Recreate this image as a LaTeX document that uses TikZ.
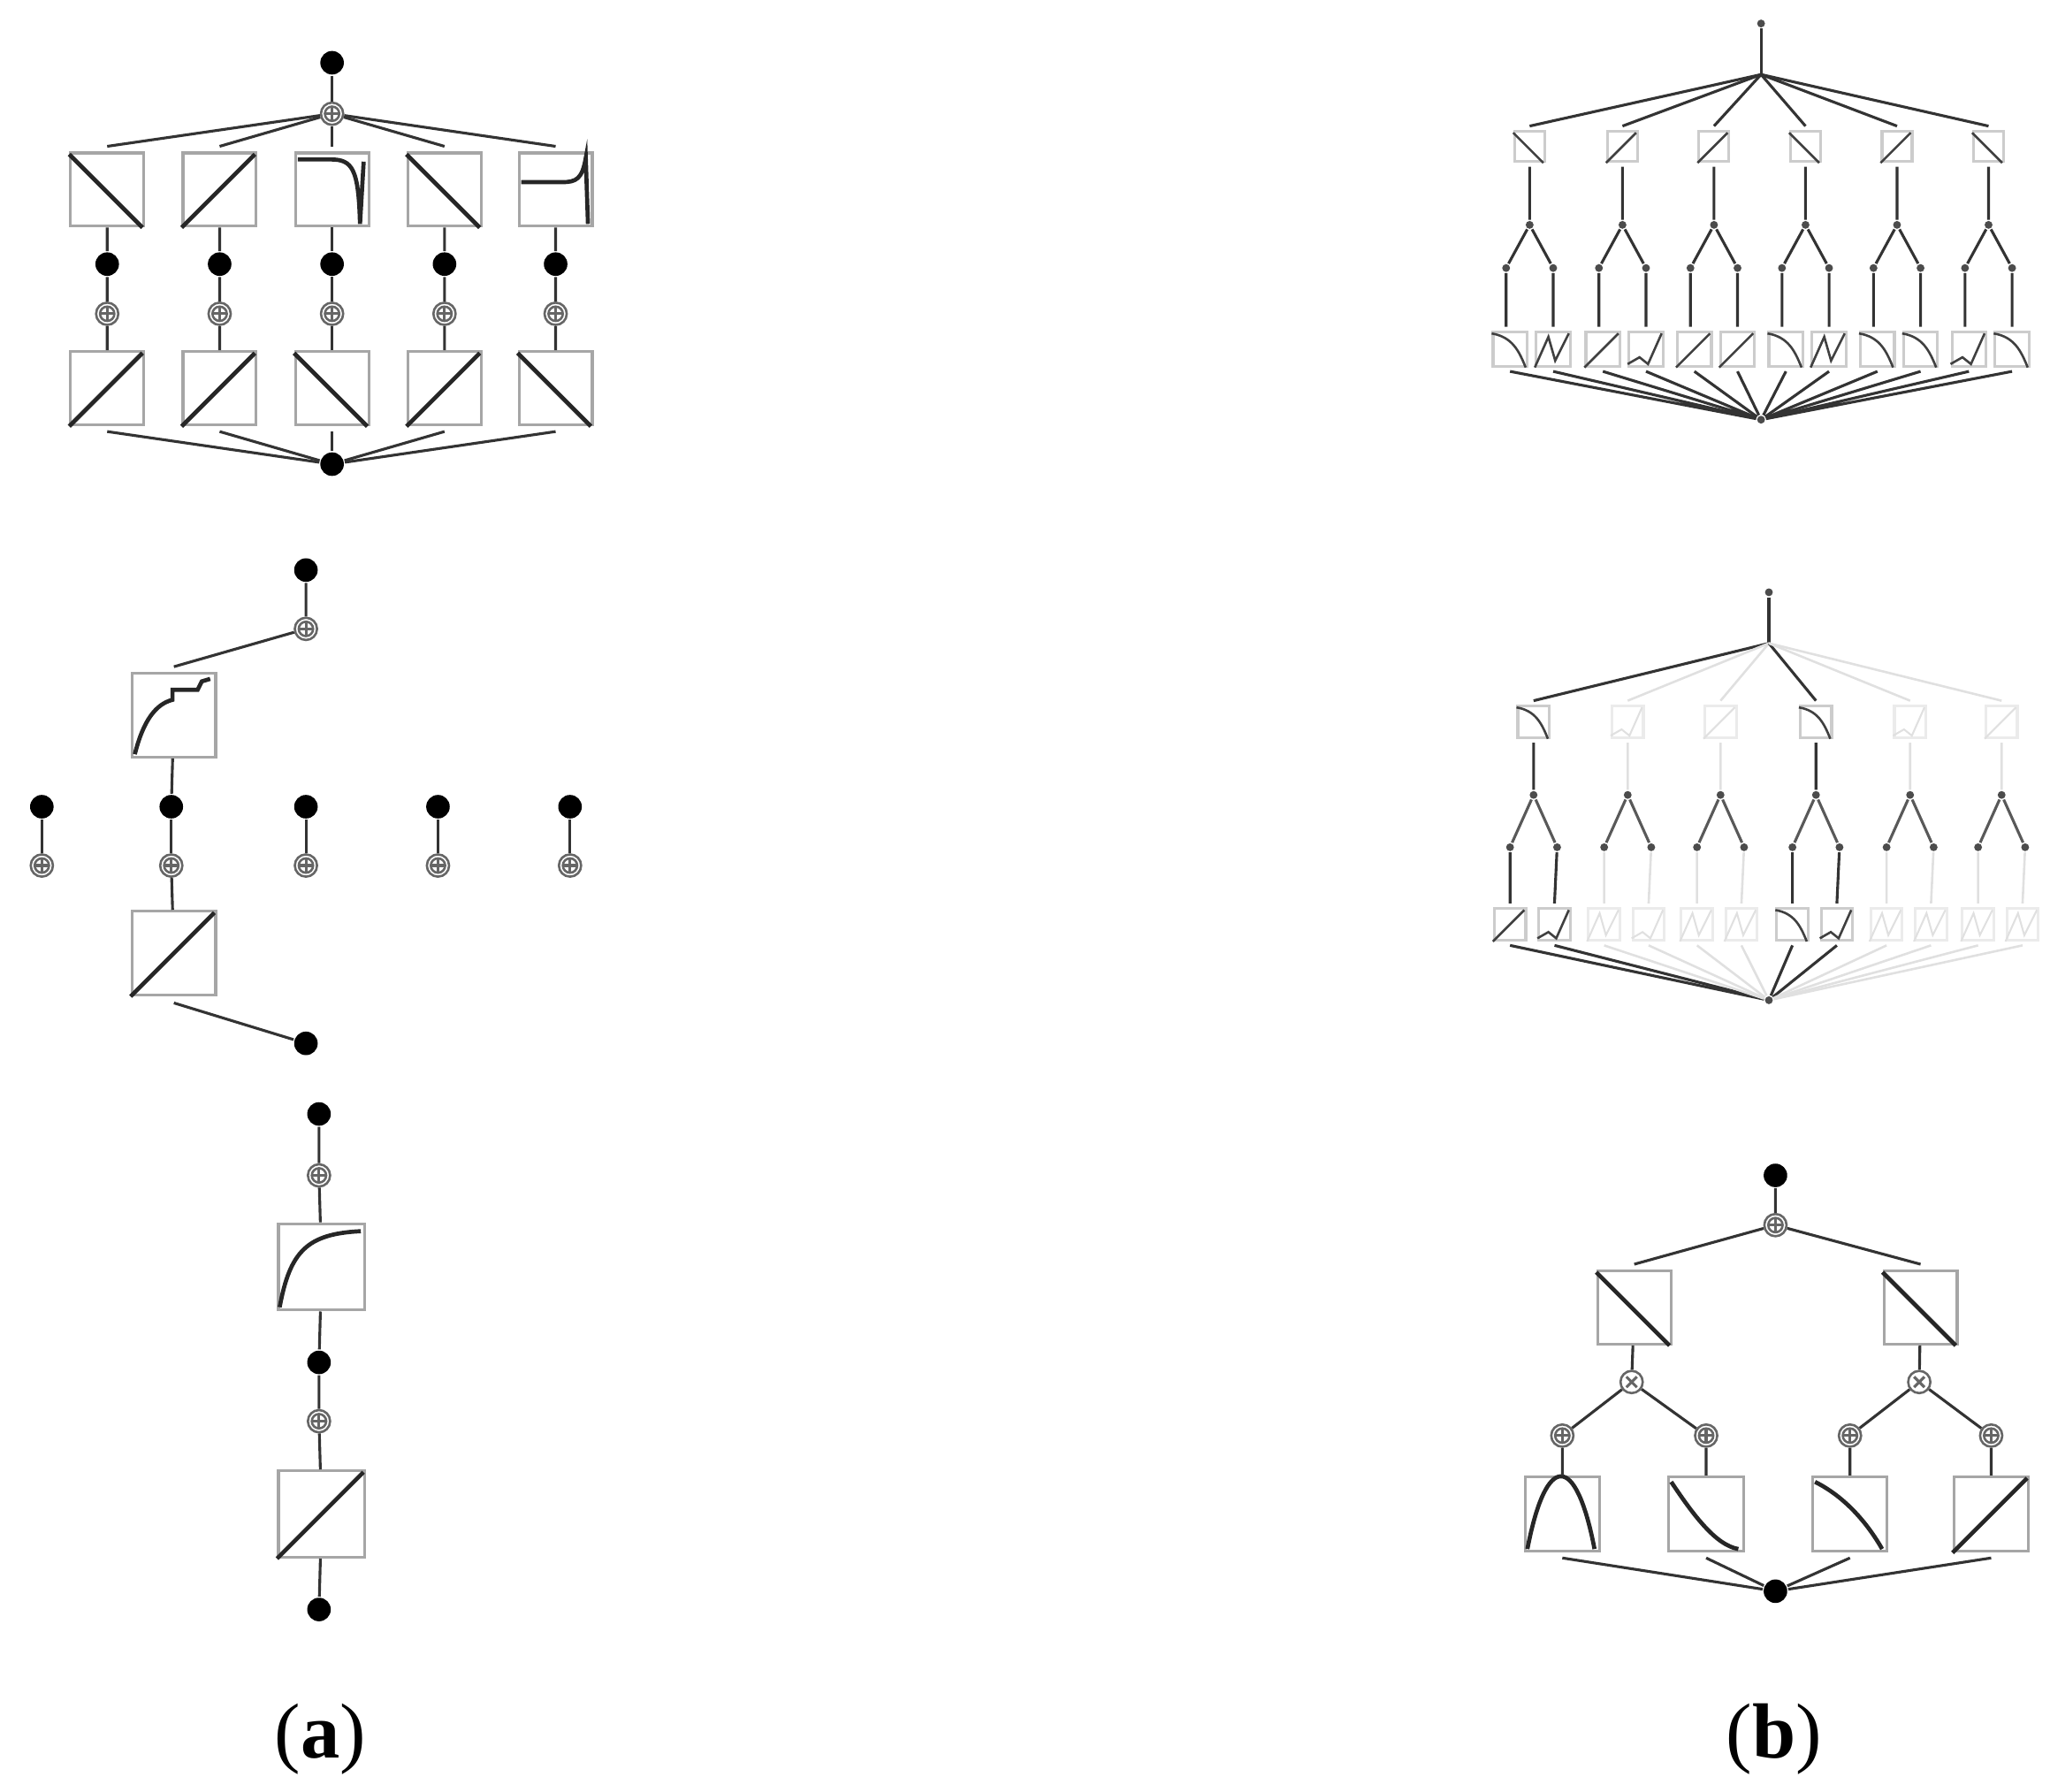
\documentclass[tikz,border=0pt]{standalone}
\usepackage{fontspec}
\setmainfont{Liberation Serif}
\begin{document}
\begin{tikzpicture}[x=0.01cm,y=-0.01cm,line width=0.5pt,
  dot/.style={circle,fill=black,inner sep=0,minimum size=0.18cm},
  sdot/.style={circle,fill=black!70,inner sep=0,minimum size=0.06cm},
  plus/.style={circle,draw=black!60,inner sep=0,minimum size=0.17cm,
    path picture={\draw[black!60] (path picture bounding box.center) circle (0.055cm);
      \draw[line width=0.6pt] ([xshift=-0.05cm]path picture bounding box.center)--([xshift=0.05cm]path picture bounding box.center)
      ([yshift=-0.05cm]path picture bounding box.center)--([yshift=0.05cm]path picture bounding box.center);}},
  times/.style={circle,draw=black!60,inner sep=0,minimum size=0.17cm,
    path picture={\draw[line width=0.6pt] ([shift={(-0.04cm,-0.04cm)}]path picture bounding box.center)--([shift={(0.04cm,0.04cm)}]path picture bounding box.center)
      ([shift={(-0.04cm,0.04cm)}]path picture bounding box.center)--([shift={(0.04cm,-0.04cm)}]path picture bounding box.center);}},
  gbox/.style={draw=black!35,inner sep=0,line width=0.6pt},
  curve/.style={line width=0.9pt,black!85},
  edge/.style={black!80,line width=0.6pt},
  faint/.style={black!12,line width=0.5pt},
  small/.style={curve/.style={line width=0.5pt,black!75}},
  smallfaint/.style={curve/.style={line width=0.4pt,black!12}}]
\newcommand\gbox[6][gbox]{\node[#1,minimum size={#5*0.1mm}] (#2) at (#3,#4) {};
  \begin{scope}[shift={(#2.south west)},x={#5*0.1mm},y={#5*0.1mm}]#6\end{scope}}
\newcommand\cdn{\draw[curve] (0,1)--(1,0);}
\newcommand\cupp{\draw[curve] (0,0)--(1,1);}
\newcommand\cdrop{\draw[curve] (0.05,0.93)--(0.5,0.93) .. controls (0.8,0.93) and (0.88,0.8) .. (0.9,0.05) -- (0.95,0.9);}
\newcommand\cspike{\draw[curve] (0.05,0.62)--(0.6,0.62) .. controls (0.8,0.62) and (0.88,0.66) .. (0.93,0.95) -- (0.96,0.05);}
\newcommand\cjump{\draw[curve] (0.05,0.05) .. controls (0.15,0.45) and (0.3,0.65) .. (0.5,0.7) -- (0.5,0.82) -- (0.8,0.82) -- (0.85,0.92) -- (0.95,0.95);}
\newcommand\csat{\draw[curve] (0.03,0.05) .. controls (0.15,0.7) and (0.35,0.9) .. (0.97,0.93);}
\newcommand\cpar{\draw[curve] (0.05,0.05) .. controls (0.3,1.35) and (0.7,1.35) .. (0.95,0.05);}
\newcommand\cconv{\draw[curve] (0.05,0.95) .. controls (0.35,0.5) and (0.65,0.1) .. (0.95,0.05);}
\newcommand\cconc{\draw[curve] (0.05,0.95) .. controls (0.45,0.75) and (0.75,0.4) .. (0.95,0.05);}
\newcommand\cN{\draw[curve] (0,0)--(0.4,0.9)--(0.6,0.2)--(1,1);}
\newcommand\cM{\draw[curve] (0,0.1)--(0.35,0.3)--(0.6,0.1)--(1,1);}
\newcommand\cA{\draw[curve] (0,1) .. controls (0.6,0.9) and (0.8,0.5) .. (1,0);}
\useasboundingbox (0,0) rectangle (1568,1370.5);
% ---------------- (a) top
\node[dot] (a0) at (254,48) {};
\node[plus] (ap) at (254,87) {};
\node[dot] (ab) at (254,355) {};
\draw[edge] (a0)--(ap);
\foreach \i/\x/\c/\d in {1/82/\cdn/\cupp,2/168/\cupp/\cupp,3/254/\cdrop/\cdn,4/340/\cdn/\cupp,5/425/\cspike/\cdn}{
  \gbox{at\i}{\x}{145}{56}{\c}
  \gbox{ab\i}{\x}{297}{56}{\d}
  \node[dot] (ad\i) at (\x,202) {};
  \node[plus] (ap\i) at (\x,240) {};
  \draw[edge] (ap)--([yshift=0.04cm]at\i.north) (at\i)--(ad\i)--(ap\i)--(ab\i) ([yshift=-0.04cm]ab\i.south)--(ab);
}
% ---------------- (a) middle
\node[dot] (m0) at (234,436) {};
\node[plus] (mp) at (234,481) {};
\gbox{mb1}{133}{547}{64}{\cjump}
\gbox{mb2}{133}{729}{64}{\cupp}
\node[dot] (mb) at (234,798) {};
\draw[edge] (m0)--(mp) (mp)--([yshift=0.04cm]mb1.north);
\foreach \i/\x in {1/32,2/131,3/234,4/335,5/436}{
  \node[dot] (md\i) at (\x,617) {};
  \node[plus] (mq\i) at (\x,662) {};
  \draw[edge] (md\i)--(mq\i);
}
\draw[edge] (mb1)--(md2) (mq2)--(mb2) ([yshift=-0.05cm]mb2.south)--(mb);
% ---------------- (a) bottom
\node[dot] (l0) at (244,852) {};
\node[plus] (lp1) at (244,899) {};
\gbox{lb1}{246}{969}{66}{\csat}
\node[dot] (l1) at (244,1042) {};
\node[plus] (lp2) at (244,1087) {};
\gbox{lb2}{246}{1158}{66}{\cupp}
\node[dot] (l2) at (244,1231) {};
\draw[edge] (l0)--(lp1)--(lb1)--(l1)--(lp2)--(lb2)--(l2);
% ---------------- (b) top
\node[sdot] (r0) at (1347,18) {};
\coordinate (rh) at (1347,57);
\node[sdot] (rb) at (1347,321) {};
\draw[edge] (r0)--(rh);
\begin{scope}[small]
\foreach \i/\x/\c/\e/\f in {1/1170/\cdn/\cA/\cN,2/1241/\cupp/\cupp/\cM,3/1311/\cupp/\cupp/\cupp,4/1381/\cdn/\cA/\cN,5/1451/\cupp/\cA/\cA,6/1521/\cdn/\cM/\cA}{
  \gbox[gbox,draw=black!20]{rt\i}{\x}{112}{23}{\c}
  \node[sdot] (rj\i) at (\x,172) {};
  \node[sdot] (rl\i) at (\x-18,205) {};
  \node[sdot] (rr\i) at (\x+18,205) {};
  \gbox[gbox,draw=black!20]{rbl\i}{\x-15}{267}{26}{\e}
  \gbox[gbox,draw=black!20]{rbr\i}{\x+18}{267}{26}{\f}
  \draw[edge] (rh)--([yshift=0.03cm]rt\i.north) ([yshift=-0.03cm]rt\i.south)--(rj\i) (rl\i)--(rj\i)--(rr\i)
    (rl\i)--([yshift=0.03cm]rl\i|-rbl\i.north) (rr\i)--([yshift=0.03cm]rbr\i.north)
    ([yshift=-0.03cm]rbl\i.south)--(rb) ([yshift=-0.03cm]rbr\i.south)--(rb);
}
\end{scope}
% ---------------- (b) middle
\node[sdot] (s0) at (1353,453) {};
\coordinate (sh) at (1353,492);
\node[sdot] (sb) at (1353,765) {};
\draw[edge] (s0)--(sh);
\foreach \i/\x/\st/\cs/\bd/\c/\e/\f in {1/1173/edge/small/20/\cA/\cupp/\cM,2/1245/faint/smallfaint/8/\cM/\cN/\cM,3/1316/faint/smallfaint/8/\cupp/\cN/\cN,4/1389/edge/small/20/\cA/\cA/\cM,5/1461/faint/smallfaint/8/\cM/\cN/\cN,6/1531/faint/smallfaint/8/\cupp/\cN/\cN}{
  \begin{scope}[\cs]
  \gbox[gbox,draw=black!\bd]{st\i}{\x}{552}{24}{\c}
  \gbox[gbox,draw=black!\bd]{sbl\i}{\x-18}{707}{24}{\e}
  \gbox[gbox,draw=black!\bd]{sbr\i}{\x+16}{707}{24}{\f}
  \end{scope}
  \node[sdot] (sj\i) at (\x,608) {};
  \node[sdot] (sl\i) at (\x-18,648) {};
  \node[sdot] (sr\i) at (\x+18,648) {};
  \draw[\st] (sh)--([yshift=0.03cm]st\i.north) ([yshift=-0.03cm]st\i.south)--(sj\i);
  \draw[black!65,line width=0.6pt] (sl\i)--(sj\i)--(sr\i);
  \draw[\st] (sl\i)--([yshift=0.03cm]sbl\i.north) ([yshift=-0.03cm]sbl\i.south)--(sb);
  \draw[\st] (sr\i)--([yshift=0.03cm]sbr\i.north) ([yshift=-0.03cm]sbr\i.south)--(sb);
}
% ---------------- (b) bottom
\node[dot] (u0) at (1358,899) {};
\node[plus] (up) at (1358,937) {};
\gbox{ub1}{1250}{1000}{56}{\cdn}
\gbox{ub2}{1469}{1000}{56}{\cdn}
\node[times] (ux1) at (1248,1057) {};
\node[times] (ux2) at (1468,1057) {};
\node[dot] (ub) at (1358,1217) {};
\draw[edge] (u0)--(up) (up)--([yshift=0.04cm]ub1.north) (up)--([yshift=0.04cm]ub2.north) (ub1)--(ux1) (ub2)--(ux2);
\foreach \i/\x/\p/\c in {1/1195/ux1/\cpar,2/1305/ux1/\cconv,3/1415/ux2/\cconc,4/1523/ux2/\cupp}{
  \node[plus] (uq\i) at (\x,1098) {};
  \gbox{uc\i}{\x}{1158}{57}{\c}
  \draw[edge] (\p)--(uq\i)--(uc\i) ([yshift=-0.04cm]uc\i.south)--(ub);
}
% labels
\node[font=\fontsize{17}{20}\selectfont] (la) at (245,1330) {(\textbf{a})};
\node[font=\fontsize{17}{20}\selectfont] (lb) at (1357,1330) {(\textbf{b})};
\end{tikzpicture}
\end{document}
